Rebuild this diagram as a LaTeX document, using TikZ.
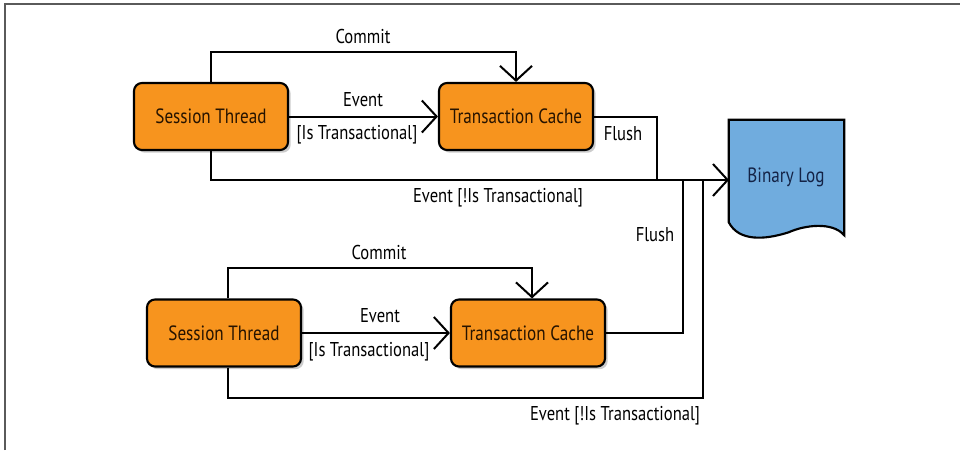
\documentclass[tikz,border=0pt]{standalone}
\usepackage{fontspec}
\setmainfont{PT Sans}[FakeStretch=0.83]
\usetikzlibrary{arrows.meta,shadows,calc}
\definecolor{boxorange}{RGB}{247,148,30}
\definecolor{logblue}{RGB}{112,172,222}
\definecolor{logtext}{RGB}{20,35,70}
\definecolor{frame}{RGB}{90,90,90}
\begin{document}
\begin{tikzpicture}[x=0.75pt,y=-0.75pt,
  proc/.style={draw=black, line width=1.6pt, rounded corners=6pt, fill=boxorange,
    minimum width=115.5pt, minimum height=50.25pt, inner sep=0pt,
    font=\fontsize{15.5}{18}\selectfont, text=black!85!orange,
    drop shadow={shadow xshift=2pt, shadow yshift=-2pt, opacity=0.2, fill=black}},
  lbl/.style={font=\fontsize{15}{18}\selectfont, inner sep=0pt, text=black},
  conn/.style={line width=1.5pt},
  arr/.style={conn, -{Straight Barb[length=11pt,width=24pt,line width=1.5pt]}}]
\useasboundingbox (0,0) rectangle (960,450);
\fill[white] (0,0) rectangle (960,450);
% frame
\draw[frame, line width=1.6pt] (5,450) -- (5,4) -- (960,4);

% nodes
\node[proc] (s1) at (211,116.5) {Session Thread};
\node[proc] (t1) at (516,116.5) {Transaction Cache};
\node[proc] (s2) at (224,333) {Session Thread};
\node[proc] (t2) at (528,333) {Transaction Cache};

% binary log
\node[minimum width=86.25pt, minimum height=86.25pt, inner sep=0pt] (bl) at (786.5,177.5) {};
\draw[line width=1.6pt, fill=logblue] (bl.north west) -- (bl.north east) -- (bl.south east)
  .. controls ($(bl.south east)+(-12,-14)$) and ($(bl.south east)+(-40,-10)$) .. ($(bl.south west)+(60,-3)$)
  .. controls ($(bl.south west)+(35,5)$) and ($(bl.south west)+(10,6)$) .. ($(bl.south west)+(0,-13)$)
  -- cycle;
\node[font=\fontsize{15.5}{18}\selectfont, text=logtext, inner sep=0pt] (bltext) at (786,177) {Binary Log};

\coordinate (blin) at (729,180);
\coordinate (j1) at (657,180);
\coordinate (j2) at (683,180);
\coordinate (j3) at (703,180);

% top connectors
\draw[arr] (s1.north) -- ++(0,-30) -| (t1.north);
\draw[arr] (s1.east) -- (t1.west);
\draw[conn] (t1.east) -| (j1);
\draw[arr] (s1.south) |- (blin);

% bottom connectors
\draw[arr] ([xshift=3pt]s2.north) -- ++(0,-30) -| ([xshift=3pt]t2.north);
\draw[arr] (s2.east) -- (t2.west);
\draw[conn] (t2.east) -| (j2);
\draw[conn] ([xshift=3pt]s2.south) -- ++(0,30) -| (j3);

% labels
\node[lbl] (commit1) at (363,36) {Commit};
\node[lbl] (ev1) at (363,100) {Event};
\node[lbl] (ist1) at (357,135) {[Is Transactional]};
\node[lbl] (flush1) at (623,134) {Flush};
\node[lbl] (nt1) at (498,198) {Event [!Is Transactional]};
\node[lbl] (flush2) at (655,235) {Flush};
\node[lbl] (commit2) at (379,252) {Commit};
\node[lbl] (ev2) at (380,316) {Event};
\node[lbl] (ist2) at (369,352) {[Is Transactional]};
\node[lbl] (nt2) at (615,416) {Event [!Is Transactional]};
\end{tikzpicture}
\end{document}
